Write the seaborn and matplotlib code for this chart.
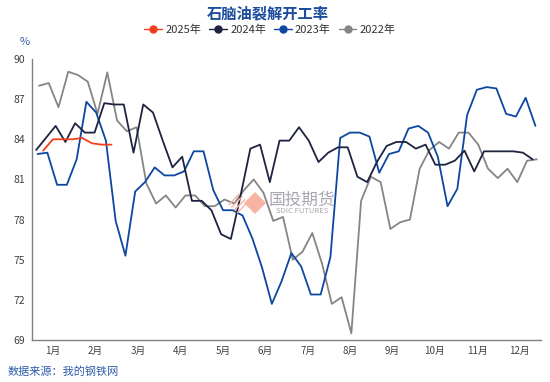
import pandas as pd
import numpy as np
import seaborn as sns
from matplotlib import pyplot as plt
from matplotlib.lines import Line2D
from matplotlib.patches import Polygon

# weekly naphtha cracking operating rate (%), Thursday data
v2025 = [83.15, 84.0, 84.0, 84.0, 84.1, 83.7, 83.6, 83.6]
v2024 = [83.2, 84.1, 85.0, 83.8, 85.2, 84.5, 84.5, 86.7, 86.6, 86.6,
         83.0, 86.6, 86.0, 83.9, 81.9, 82.7, 79.4, 79.4, 78.7, 76.9,
         76.55, 79.8, 83.3, 83.6, 80.8, 83.9, 83.9, 84.9, 83.9, 82.3,
         83.0, 83.4, 83.4, 81.2, 80.8, 82.3, 83.5, 83.8, 83.8, 83.3,
         83.6, 82.1, 82.1, 82.4, 83.15, 81.6, 83.1, 83.1, 83.1, 83.1,
         83.0, 82.5]
v2023 = [82.9, 83.0, 80.6, 80.6, 82.5, 86.8, 86.0, 83.9, 77.9, 75.3,
         80.1, 80.8, 81.9, 81.3, 81.3, 81.6, 83.1, 83.1, 80.2, 78.7,
         78.7, 78.3, 76.6, 74.4, 71.7, 73.4, 75.5, 74.5, 72.4, 72.4,
         75.2, 84.1, 84.5, 84.5, 84.2, 81.5, 82.9, 83.1, 84.8, 85.0,
         84.5, 82.7, 79.0, 80.3, 85.8, 87.7, 87.9, 87.8, 85.9, 85.7,
         87.1, 85.0]
v2022 = [88.0, 88.2, 86.4, 89.05, 88.8, 88.3, 85.9, 89.0, 85.4, 84.6,
         84.9, 80.7, 79.2, 79.8, 78.9, 79.8, 79.8, 79.0, 79.0, 79.5,
         79.2, 80.2, 81.0, 80.0, 77.9, 78.2, 75.0, 75.6, 77.0, 74.7,
         71.7, 72.2, 69.5, 79.4, 81.2, 80.8, 77.3, 77.8, 78.0, 81.8,
         83.2, 83.8, 83.3, 84.5, 84.5, 83.6, 81.8, 81.1, 81.8, 80.8,
         82.4, 82.5]

series = {"2025年": ("2025-01-09", v2025),
          "2024年": ("2024-01-04", v2024),
          "2023年": ("2023-01-05", v2023),
          "2022年": ("2022-01-06", v2022)}
colors = {"2025年": "#F2401E", "2024年": "#1E2341",
          "2023年": "#0D47A1", "2022年": "#858585"}
months = [f"{m}月" for m in range(1, 13)]

rows = []
for name, (start, vals) in series.items():
    d = pd.date_range(start, periods=len(vals), freq="7D")
    ylen = 366 if d[0].is_leap_year else 365
    pos = (d.dayofyear - 1) / ylen * 12
    for p, v in zip(pos, vals):
        rows.append({"year": name, "pos": p, "rate": v})
df = pd.DataFrame(rows)

sns.set_style("white")
plt.rcParams["font.family"] = ["Noto Sans CJK SC", "DejaVu Sans"]

H = 382
fig = plt.figure(figsize=(5.5, 3.82), dpi=100)
ax = fig.add_axes([32 / 550, 1 - 340 / H, 509 / 550, 281 / H])

# watermark (behind the lines), pixel coords measured from the top
def diamond(cx, cy, r):
    return [[cx - r, H - cy], [cx, H - cy + r], [cx + r, H - cy], [cx, H - cy - r]]

fig.patches.append(Polygon(diamond(255, 203, 11), closed=True, transform=None,
                           facecolor="#F9B3A2", edgecolor="none", zorder=0))
fig.patches.append(Polygon(diamond(238, 203, 11), closed=True, transform=None,
                           facecolor="none", edgecolor="#F9B3A2", hatch="//////",
                           lw=0, zorder=0))
fig.text(302 / 550, 1 - 200 / H, "国投期货", ha="center", va="center",
         fontsize=12, color="#A8A8B0", zorder=0)
fig.text(302 / 550, 1 - 211 / H, "SDIC FUTURES", ha="center", va="center",
         fontsize=5.5, color="#A8A8B0", zorder=0)
ax.patch.set_alpha(0)

# draw older years first so 2025 sits on top
for name in ["2022年", "2023年", "2024年", "2025年"]:
    sub = df[df["year"] == name]
    sns.lineplot(data=sub, x="pos", y="rate", color=colors[name], lw=1.3,
                 ax=ax, legend=False, estimator=None, sort=False)

ax.set_xlim(0, 12)
ax.set_ylim(69, 90)
ax.set_yticks(np.arange(69, 91, 3))
ax.set_xticks(np.arange(0, 13))
ax.set_xticklabels([])
ax.set_xticks(np.arange(0.5, 12), minor=True)
ax.set_xticklabels(months, minor=True)
ax.tick_params(axis="x", which="major", length=3, color="#808080", direction="out")
ax.tick_params(axis="x", which="minor", length=0, labelsize=7, colors="#404040", pad=4)
ax.tick_params(axis="y", length=3, color="#808080", labelsize=7.5, labelcolor="#404040", pad=2)
ax.set_xlabel("")
ax.set_ylabel("")
sns.despine(ax=ax)
for s in ["left", "bottom"]:
    ax.spines[s].set_color("#808080")
    ax.spines[s].set_linewidth(1.0)

fig.text(268 / 550, 1 - 13 / H, "石脑油裂解开工率", ha="center", va="center",
         fontsize=11, fontweight="bold", color="#1A4B9C")
fig.text(25 / 550, 1 - 42 / H, "%", ha="center", va="center",
         fontsize=8, color="#3A5AA8")
fig.text(8 / 550, 1 - 372 / H, "数据来源：我的钢铁网", ha="left", va="center",
         fontsize=8, color="#2F5DAA")

handles = [Line2D([], [], color=colors[n], lw=1, marker="o", markersize=5)
           for n in series]
fig.legend(handles, list(series), loc="center", bbox_to_anchor=(270 / 550, 1 - 30 / H),
           ncol=4, frameon=False, fontsize=8, handlelength=1.6, handletextpad=0.3,
           columnspacing=0.7, labelcolor="#333333")

fig.savefig("out.png", dpi=100)
